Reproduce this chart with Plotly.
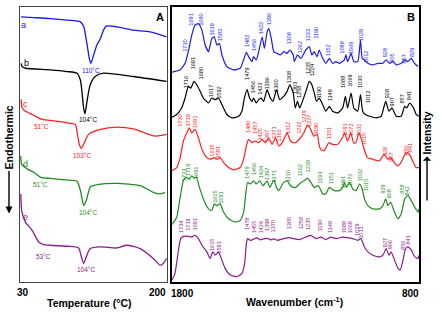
import plotly.graph_objects as go

FONT = "Arial, Liberation Sans, sans-serif"

# ---------------- Panel A: DSC thermograms (temperature, heat flow a.u. with offsets) -------------
T_a = [28, 44, 64, 84, 100, 104, 108, 111, 112.7, 116, 120, 124, 128, 131, 144, 164, 184, 204]
H_a = [268, 267.3, 266.3, 264.7, 263, 258, 240, 225, 221.3, 230, 240, 246, 255, 258.7, 258, 254.7, 253, 248]
T_b = [28.4, 29.6, 33.6, 63.7, 83.8, 95.8, 99.8, 101.8, 103.8, 105.5, 107.9, 111.8, 117.8, 127.8, 163.9, 204]
H_b = [221.3, 218, 216.3, 214.7, 213, 211.3, 204.7, 193, 176.3, 170.3, 183, 199.7, 208, 211.3, 208, 203]
T_c = [28.4, 29.6, 33.6, 41.7, 49.6, 53.7, 63.7, 83.8, 93.8, 95.8, 98.6, 101, 103.8, 109.8, 123.9, 144, 163.9, 190, 204]
H_c = [184.7, 176.3, 173, 169.7, 166.3, 164.7, 163.7, 161.3, 159.7, 153, 139.7, 135.7, 139.7, 149.7, 154.7, 157, 155.3, 148, 149.7]
T_d = [28, 29, 36, 44, 52, 64, 84, 96, 100, 104, 107, 112, 120, 144, 172, 188, 196, 202]
H_d = [128, 119.7, 114.7, 111.3, 106.3, 105.3, 103.7, 102.3, 93, 78, 83, 97, 99, 100.3, 98, 91.3, 89.7, 91.3]
T_e = [28, 29, 33.6, 41.7, 49.6, 55.6, 83.8, 97.8, 100.6, 103.8, 107, 111.8, 123.9, 144, 156, 172, 188, 196, 200, 204]
H_e = [89.7, 73, 61.3, 53, 41.3, 38.7, 37, 35.3, 28, 19.7, 26.3, 34.7, 36.3, 35.3, 38, 34.7, 24.7, 18, 19.7, 24.7]

dsc_names = ["a", "b", "c", "d", "e"]
dsc_colors = ["#1a1aee", "#000000", "#ff2020", "#1e8c1e", "#8c1a8c"]

# DSC annotations: text, temperature, heat-flow
dsc_lab_text = ["a", "b", "c", "d", "e",
                "110°C", "104°C", "51°C", "103°C", "51°C", "104°C", "53°C", "104°C"]
dsc_lab_x = [31.6, 34.8, 33.6, 33.6, 33.6, 113, 109.4, 52.5, 101.8, 51.7, 108.6, 54.9, 107]
dsc_lab_y = [259.7, 221.3, 180, 119.7, 66.3, 214, 165, 158, 128, 99.7, 71.3, 26.3, 14]
dsc_lab_color = [0, 1, 2, 3, 4, 0, 1, 2, 2, 3, 3, 4, 4]

temp_ticks = [30, 200]
wave_ticks = [1800, 800]

# ---------------- Panel B: FTIR spectra (wavenumber, intensity a.u. with offsets) -----------------
W_a = [1800, 1767, 1747, 1734, 1720, 1707, 1693, 1679, 1666, 1652, 1639, 1629, 1618, 1608, 1598, 1578, 1551,
       1524, 1510, 1499, 1490, 1476, 1470, 1459, 1449, 1435, 1426, 1415, 1408, 1398, 1388, 1374, 1361, 1348,
       1334, 1323, 1309, 1305, 1292, 1278, 1258, 1244, 1234, 1224, 1213, 1204, 1190, 1177, 1163, 1150, 1136,
       1122, 1102, 1096, 1089, 1075, 1064, 1048, 1037, 1030, 1021, 1007, 987, 967, 946, 933, 919, 906, 892,
       872, 858, 845, 831, 818, 804]
I_a = [212.3, 214.7, 221.3, 233, 249.7, 259.7, 261.3, 254.7, 239.7, 233, 246.3, 248, 239.7, 241.3, 229.7, 218,
       214.7, 216.3, 224.7, 232.3, 228, 223, 228, 224.7, 233, 248, 236.3, 253, 256.3, 246.3, 233, 231.3, 229.7,
       233, 231.3, 234.7, 229.7, 223, 229.7, 226.3, 234.7, 238, 229.7, 233, 228, 234.7, 226.3, 221.3, 226.3,
       221.3, 223, 221.3, 224.7, 229.7, 223, 231.3, 223, 223, 244.7, 226.3, 224.7, 221.3, 219.7, 221.3, 221.3,
       224.7, 221.3, 223, 219.7, 221.3, 224.7, 223, 226.3, 221.3, 218]
W_b = [1800, 1781, 1761, 1747, 1734, 1724, 1711, 1700, 1686, 1673, 1652, 1639, 1625, 1612, 1598, 1578, 1557,
       1530, 1517, 1507, 1496, 1486, 1476, 1470, 1459, 1449, 1439, 1429, 1415, 1402, 1391, 1377, 1364, 1348,
       1334, 1323, 1309, 1301, 1292, 1283, 1272, 1258, 1244, 1234, 1224, 1215, 1204, 1190, 1177, 1163, 1150,
       1129, 1109, 1098, 1089, 1075, 1064, 1048, 1037, 1028, 1017, 1000, 973, 953, 935, 922, 909, 892, 872,
       858, 849, 838, 822, 811, 800]
I_b = [167, 169.7, 176.3, 186.3, 198, 196.3, 203, 199.7, 193, 186.3, 181.3, 186.3, 184.7, 186.3, 179.7, 169.7,
       166.3, 168, 173, 186.3, 194.7, 186.3, 183, 186.3, 181.3, 184.7, 186.3, 183, 194.7, 186.3, 183, 194.7,
       184.7, 188, 193, 199.7, 191.3, 176.3, 183, 176.3, 183, 193, 203, 199.7, 191.3, 183, 186.3, 179.7, 173,
       178, 173, 171.3, 176.3, 188, 176.3, 191.3, 176.3, 173, 189.7, 173, 169.7, 168, 166.3, 168, 183, 173,
       176.3, 168, 168, 178, 176.3, 181.3, 176.3, 169.7, 168]
W_c = [1800, 1781, 1767, 1754, 1740, 1730, 1720, 1707, 1693, 1679, 1659, 1646, 1629, 1618, 1605, 1591, 1571,
       1551, 1524, 1510, 1499, 1490, 1476, 1463, 1449, 1435, 1422, 1409, 1395, 1381, 1368, 1354, 1341, 1334,
       1320, 1307, 1300, 1280, 1266, 1252, 1239, 1226, 1212, 1205, 1198, 1185, 1165, 1151, 1130, 1110, 1101,
       1090, 1083, 1076, 1065, 1056, 1043, 1033, 1022, 1009, 988, 961, 941, 927, 914, 900, 887, 873, 860, 846,
       835, 826, 812, 800]
I_c = [113, 116.3, 126.3, 143, 151.3, 156.3, 151.3, 154.7, 146.3, 134.7, 126.3, 124.7, 126.3, 124.7, 126.3,
       121.3, 116.3, 114, 116.3, 124.7, 138, 144.7, 141.3, 143, 141.3, 144.7, 141.3, 146.3, 139.7, 146.3, 138,
       141.3, 148, 151.3, 143, 141.3, 141.3, 146.3, 151.3, 159, 155, 148, 149.7, 139.7, 134.7, 133, 141.3,
       139.7, 139.7, 146.3, 151.3, 143, 146.3, 151.3, 141.3, 141.3, 151.3, 144.7, 134.7, 126.3, 124.7, 123,
       129.7, 124.7, 126.3, 121.3, 118, 121.3, 128, 131.3, 128, 123, 116.3, 116.3]
W_d = [1800, 1781, 1767, 1754, 1743, 1730, 1720, 1711, 1702, 1689, 1673, 1652, 1639, 1629, 1618, 1605, 1591,
       1571, 1544, 1524, 1510, 1503, 1494, 1483, 1470, 1459, 1445, 1431, 1415, 1404, 1388, 1377, 1368, 1348,
       1334, 1320, 1307, 1299, 1278, 1265, 1251, 1238, 1224, 1207, 1190, 1177, 1163, 1143, 1122, 1109, 1102,
       1093, 1082, 1068, 1055, 1041, 1030, 1021, 1007, 987, 960, 946, 935, 926, 915, 899, 885, 872, 858, 845,
       831, 817, 804, 800]
I_d = [59, 66.3, 86.3, 103, 106.3, 104.7, 108, 105.7, 107, 96.3, 84.7, 74.7, 73, 79.7, 78, 79.7, 71.3, 64.7,
       61.3, 63, 71.3, 86.3, 101.3, 99.7, 103, 99.7, 103, 98, 103, 96.3, 103.7, 96.3, 93, 101.3, 103, 98, 96.3,
       96.3, 101.3, 103, 105.7, 101.3, 96.3, 98, 89.7, 89.7, 96.3, 93, 93, 96.3, 101.3, 96.3, 101.3, 94.7, 93,
       99.7, 94.7, 84.7, 78, 74.7, 74.7, 78, 84.7, 78, 81.3, 71.3, 64.7, 69.7, 84.7, 88, 83, 76.3, 71.3, 74.7]
W_e = [1800, 1788, 1774, 1765, 1754, 1734, 1720, 1707, 1693, 1679, 1659, 1646, 1635, 1625, 1612, 1598, 1585,
       1564, 1537, 1517, 1506, 1499, 1494, 1483, 1470, 1456, 1443, 1429, 1413, 1402, 1388, 1374, 1348, 1327,
       1307, 1285, 1258, 1238, 1217, 1197, 1177, 1157, 1136, 1109, 1089, 1068, 1048, 1035, 1021, 1007, 987,
       960, 946, 933, 922, 913, 899, 885, 876, 865, 854, 845, 831, 817, 804, 800]
I_e = [3, 9.7, 33, 44.7, 47, 47, 46.3, 48, 44.7, 38, 31.3, 24.7, 31.3, 28, 31.3, 23, 14.7, 8, 6.3, 9.7, 19.7,
       39.7, 44.7, 43, 44, 45.5, 43.5, 44.5, 45, 43.5, 44.5, 43, 44.7, 45.7, 44.7, 43.7, 46.3, 48, 44.7, 46.3,
       43.7, 46.3, 44.7, 46.3, 45.7, 44.7, 43, 44.7, 36.3, 31.3, 28, 26.3, 28, 34.7, 28, 31.3, 23, 14.7, 13,
       23, 34.7, 36.3, 33, 26.3, 24.7, 28]

# Peak labels of each spectrum (text) and where the label sits (wavenumber, intensity)
pk_a = ["1710", "1691", "1680", "1619", "1583", "1482", "1456", "1422", "1396", "1308", "1262", "1233", "1190",
        "1152", "1088", "1069", "1029", "1012", "928", "905", "857", "829"]
pk_a_x = [1747, 1724, 1683, 1639, 1608, 1499, 1470, 1442, 1406, 1327, 1283, 1251, 1217, 1170, 1112, 1078, 1037,
          1017, 939, 909, 861, 831]
pk_a_y = [239, 265, 265, 255, 250, 244, 239, 257, 266, 246, 237, 249, 252, 234, 237, 237, 250, 228, 232, 226,
          226, 232]
pk_b = ["1716", "1691", "1680", "1617", "1592", "1479", "1456", "1423", "1396", "1360", "1308", "1303", "1258",
        "1235", "1224", "1190", "1149", "1088", "1069", "1030", "1013", "928", "907", "857", "841"]
pk_b_x = [1740, 1716, 1683, 1639, 1608, 1499, 1472, 1442, 1415, 1377, 1323, 1299, 1283, 1251, 1234, 1204, 1157,
          1105, 1078, 1037, 1007, 930, 909, 868, 841]
pk_b_y = [202, 221, 211, 193, 192, 211, 197, 196, 201, 199, 207, 196, 192, 216, 214, 192, 189, 202, 204, 203,
          187, 191, 182, 185, 189]
pk_c = ["1730", "1719", "1691", "1615", "1591", "1480", "1457", "1425", "1397", "1371", "1362", "1312", "1262",
        "1239", "1227", "1190", "1151", "1091", "1072", "1031", "1015", "928", "907", "856", "841"]
pk_c_x = [1765, 1734, 1707, 1639, 1612, 1492, 1465, 1442, 1415, 1388, 1368, 1330, 1287, 1263, 1246, 1215, 1165,
          1101, 1076, 1043, 1022, 937, 914, 853, 835]
pk_c_y = [163, 164, 162, 133, 132, 157, 156, 150, 148, 151, 148, 156, 156, 167, 163, 156, 151, 154, 154, 154,
          145, 132, 127, 134, 136]
pk_d = ["1733", "1719", "1691", "1615", "1591", "1479", "1456", "1424", "1397", "1371", "1310", "1262", "1238",
        "1193", "1151", "1091", "1072", "1032", "1015", "929", "908", "858", "842"]
pk_d_x = [1754, 1734, 1702, 1629, 1605, 1496, 1470, 1442, 1415, 1388, 1331, 1283, 1251, 1201, 1159, 1109, 1082,
          1041, 1017, 946, 922, 869, 849]
pk_d_y = [109, 114, 111, 87, 86, 111, 114, 112, 110, 107, 107, 113, 117, 106, 106, 101, 104, 109, 99, 95, 90,
          95, 93]
pk_e = ["1734", "1719", "1691", "1615", "1591", "1478", "1455", "1424", "1398", "1370", "1305", "1258", "1235",
        "1190", "1148", "1088", "1069", "1029", "1013", "927", "906", "856", "841"]
pk_e_x = [1761, 1734, 1707, 1635, 1608, 1494, 1465, 1439, 1413, 1391, 1323, 1278, 1247, 1201, 1158, 1104, 1079,
          1049, 1033, 938, 917, 862, 843]
pk_e_y = [56, 59, 59, 38, 36, 59, 56, 56, 58, 57, 60, 60, 59, 58, 56, 56, 56, 54, 51, 41, 38, 38, 43]

# ---------------------------------------------------------------------------------------------
fig = go.Figure()

dsc_T = [T_a, T_b, T_c, T_d, T_e]
dsc_H = [H_a, H_b, H_c, H_d, H_e]
for name, T, H, col in zip(dsc_names, dsc_T, dsc_H, dsc_colors):
    fig.add_trace(go.Scatter(x=T, y=H, mode="lines", name=name, showlegend=False,
                             line=dict(color=col, width=1.3, shape="spline", smoothing=0.6),
                             xaxis="x", yaxis="y", hoverinfo="skip"))

ir_W = [W_a, W_b, W_c, W_d, W_e]
ir_I = [I_a, I_b, I_c, I_d, I_e]
for name, W, I, col in zip(dsc_names, ir_W, ir_I, dsc_colors):
    fig.add_trace(go.Scatter(x=W, y=I, mode="lines", name=name, showlegend=False,
                             line=dict(color=col, width=1.2, shape="spline", smoothing=0.5),
                             xaxis="x2", yaxis="y2", hoverinfo="skip"))

ann = []
for t, x, y, ci in zip(dsc_lab_text, dsc_lab_x, dsc_lab_y, dsc_lab_color):
    single = len(t) == 1
    ann.append(dict(x=x, y=y, xref="x", yref="y", text=t, showarrow=False,
                    font=dict(family=FONT, size=9 if single else 6.5, color=dsc_colors[ci]),
                    xanchor="center", yanchor="middle"))

pk_sets = [(pk_a, pk_a_x, pk_a_y), (pk_b, pk_b_x, pk_b_y), (pk_c, pk_c_x, pk_c_y),
           (pk_d, pk_d_x, pk_d_y), (pk_e, pk_e_x, pk_e_y)]
for (texts, xs, ys), col in zip(pk_sets, dsc_colors):
    for t, x, y in zip(texts, xs, ys):
        ann.append(dict(x=x, y=y, xref="x2", yref="y2", text=t, textangle=-90, showarrow=False,
                        font=dict(family=FONT, size=5.6, color=col),
                        xanchor="center", yanchor="middle"))

# tick labels (placed at the axis values, nudged inward like the original figure)
tick_font = dict(family=FONT, size=10, color="black")
for v, sh in zip(temp_ticks, [1, -6]):
    ann.append(dict(x=v, y=0, xref="x", yref="paper", text="<b>%d</b>" % v, showarrow=False,
                    xshift=sh, yshift=-10, xanchor="center", yanchor="middle", font=tick_font))
for v, sh in zip(wave_ticks, [10, -8]):
    ann.append(dict(x=v, y=0, xref="x2", yref="paper", text="<b>%d</b>" % v, showarrow=False,
                    xshift=sh, yshift=-11, xanchor="center", yanchor="middle", font=tick_font))

# panel letters
ann.append(dict(x=196, y=268, xref="x", yref="y", text="<b>A</b>", showarrow=False,
                font=dict(family=FONT, size=11, color="black")))
ann.append(dict(x=833, y=268, xref="x2", yref="y2", text="<b>B</b>", showarrow=False,
                font=dict(family=FONT, size=11, color="black")))

# axis titles
ann.append(dict(x=0.1754, y=-0.076, xref="paper", yref="paper", text="<b>Temperature (°C)</b>",
                showarrow=False, font=dict(family=FONT, size=10.5, color="black"),
                xanchor="center", yanchor="middle"))
ann.append(dict(x=0.689, y=-0.072, xref="paper", yref="paper", text="<b>Wavenumber (cm<sup>-1</sup>)</b>",
                showarrow=False, font=dict(family=FONT, size=10.5, color="black"),
                xanchor="center", yanchor="middle"))
# side titles with their arrows
ann.append(dict(x=-0.0276, y=0.249, xref="paper", yref="paper", text="<b>Endothermic</b>", textangle=-90,
                showarrow=True, ax=0, ay=-76, arrowhead=2, arrowsize=1, arrowwidth=1.4, arrowcolor="black",
                font=dict(family=FONT, size=10.5, color="black")))
ann.append(dict(x=1.0201, y=0.296, xref="paper", yref="paper", text="<b>Intensity</b>", textangle=-90,
                showarrow=True, ax=0, ay=-67, arrowhead=2, arrowside="start", arrowsize=1, arrowwidth=1.4,
                arrowcolor="black", font=dict(family=FONT, size=10.5, color="black")))

fig.update_layout(
    width=443, height=319,
    margin=dict(l=20, r=24, t=5, b=37),
    paper_bgcolor="white", plot_bgcolor="white",
    annotations=ann,
    xaxis=dict(domain=[0, 0.3684], range=[27, 204.5], tickvals=temp_ticks, showticklabels=False,
               ticks="", showgrid=False, zeroline=False, showline=True, mirror=True, linecolor="#444",
               linewidth=1, anchor="y"),
    yaxis=dict(domain=[0, 1], range=[1, 278], showticklabels=False, ticks="", showgrid=False, zeroline=False,
               showline=True, mirror=True, linecolor="#444", linewidth=1, anchor="x"),
    xaxis2=dict(domain=[0.381, 1], range=[1800, 800], tickvals=wave_ticks, showticklabels=False,
                ticks="", showgrid=False, zeroline=False,
                showline=True, mirror=True, linecolor="black", linewidth=1.8, anchor="y2"),
    yaxis2=dict(domain=[0, 1], range=[1, 278], showticklabels=False, ticks="", showgrid=False, zeroline=False,
                showline=True, mirror=True, linecolor="black", linewidth=1.8, anchor="x2"),
)

fig.write_html("out.html", config={"displayModeBar": False},
               post_script="document.body.style.margin='0';")
